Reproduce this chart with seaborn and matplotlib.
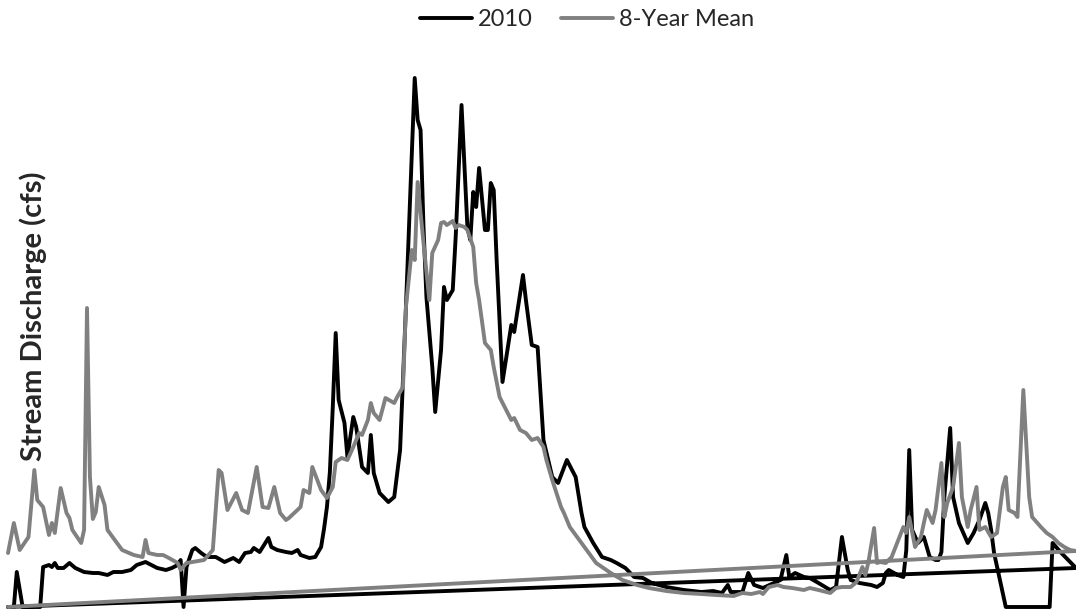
import matplotlib
matplotlib.use("Agg")
import matplotlib.pyplot as plt
import seaborn as sns
import pandas as pd

# Daily stream discharge (cfs), 2010 water year, in sheet row order
flow_day = [1, 3, 4, 6, 12, 13, 15, 16, 17, 18, 20, 22, 24, 27, 30, 32, 35, 37, 40, 43,
            45, 48, 50, 52, 55, 57, 59, 60, 61, 62, 64, 65, 67, 69, 72, 75, 78, 80, 82, 84,
            85, 87, 90, 91, 93, 96, 98, 100, 101, 104, 106, 108, 109, 110, 111, 112, 113, 114, 116, 117,
            119, 120, 122, 124, 125, 126, 128, 131, 133, 135, 137, 140, 141, 142, 143, 144, 146, 147, 149, 150,
            151, 153, 154, 156, 158, 159, 160, 161, 162, 164, 165, 166, 167, 168, 170, 173, 174, 177, 178, 180,
            182, 184, 187, 189, 192, 195, 197, 198, 201, 204, 207, 209, 212, 215, 218, 221, 226, 232, 238, 242,
            245, 247, 248, 252, 254, 256, 259, 265, 267, 268, 270, 273, 275, 278, 282, 284, 286, 288, 289, 292,
            296, 298, 300, 301, 302, 305, 307, 308, 309, 310, 312, 314, 316, 318, 319, 320, 321, 323, 324, 326,
            329, 331, 333, 335, 336, 337, 338, 342, 357, 358, 361, 365, 366, 1]
flow_cfs = [0, 0, 350, 0, 0, 400, 420, 400, 440, 390, 390, 440, 390, 350, 340, 340, 320, 350, 350, 370,
            420, 450, 420, 390, 370, 390, 420, 470, 0, 400, 570, 590, 540, 500, 500, 450, 490, 450, 540, 550,
            590, 550, 690, 600, 570, 550, 540, 570, 520, 490, 500, 600, 780, 1000, 1350, 2000, 2740, 2070, 1840, 1500,
            1900, 1800, 1400, 1340, 1720, 1340, 1140, 1050, 1100, 1570, 3000, 5290, 4870, 4770, 3800, 3100, 2400, 1950, 2570, 3200,
            3070, 3170, 3700, 5020, 3800, 3670, 4150, 4000, 4390, 3770, 3770, 4240, 4170, 3470, 2250, 2820, 2750, 3320, 3070, 2620,
            2600, 1670, 1300, 1240, 1470, 1300, 940, 800, 640, 500, 470, 440, 390, 300, 290, 240, 200, 170, 150, 160,
            140, 220, 150, 150, 340, 220, 190, 270, 520, 300, 340, 300, 290, 240, 170, 200, 700, 370, 270, 240,
            220, 200, 240, 340, 370, 320, 300, 570, 1570, 770, 640, 700, 500, 470, 470, 550, 1100, 1790, 1100, 840,
            640, 740, 870, 1040, 940, 770, 540, 0, 0, 640, 540, 420, 390, 0]

# Eight-year daily mean discharge (cfs), in sheet row order
mean_day = [1, 3, 5, 8, 10, 11, 13, 15, 16, 17, 19, 21, 22, 23, 26, 27, 28, 29, 30, 31,
            32, 34, 35, 38, 40, 44, 47, 48, 49, 52, 54, 56, 59, 60, 62, 64, 68, 71, 73, 74,
            76, 79, 81, 83, 86, 88, 90, 92, 94, 96, 97, 101, 102, 104, 105, 108, 110, 112, 113, 115,
            117, 119, 121, 122, 124, 125, 126, 128, 130, 133, 134, 136, 137, 139, 140, 141, 143, 145, 146, 148,
            149, 150, 151, 153, 154, 155, 157, 158, 160, 161, 162, 164, 166, 167, 169, 173, 174, 176, 178, 180,
            182, 184, 185, 187, 190, 191, 193, 198, 202, 207, 211, 216, 220, 226, 232, 238, 243, 249, 252, 255,
            258, 259, 261, 264, 266, 269, 273, 275, 278, 282, 284, 286, 289, 291, 293, 294, 295, 297, 298, 299,
            301, 303, 307, 308, 309, 311, 313, 314, 315, 317, 318, 320, 321, 322, 324, 326, 327, 329, 330, 332,
            333, 335, 337, 339, 341, 342, 343, 345, 346, 348, 350, 351, 354, 356, 358, 360, 362, 364, 366, 1]
mean_cfs = [540, 840, 570, 700, 1370, 1070, 1000, 720, 840, 740, 1190, 940, 890, 770, 640, 770, 2990, 1300, 880, 950,
            1200, 1020, 770, 650, 570, 520, 500, 670, 540, 520, 520, 490, 440, 370, 440, 450, 470, 570, 1370, 1340,
            970, 1140, 970, 940, 1400, 1000, 990, 1200, 940, 870, 890, 1000, 1170, 1140, 1400, 1170, 1090, 1200, 1450, 1490,
            1470, 1600, 1740, 1720, 1870, 2040, 1940, 1870, 2090, 2040, 2100, 2200, 3000, 3570, 3470, 4250, 3640, 3070, 3540, 3670,
            3840, 3850, 3820, 3860, 3790, 3820, 3800, 3770, 3600, 3240, 3070, 2640, 2570, 2400, 2100, 1870, 1890, 1770, 1740, 1670,
            1690, 1600, 1470, 1270, 1000, 940, 800, 600, 440, 340, 270, 220, 190, 160, 140, 130, 120, 110, 140, 130,
            150, 130, 200, 220, 200, 190, 170, 190, 170, 140, 190, 200, 200, 250, 400, 320, 440, 790, 440, 450,
            440, 500, 800, 740, 900, 600, 700, 840, 970, 840, 970, 1440, 900, 1040, 1200, 1640, 1100, 800, 970, 1200,
            770, 800, 700, 740, 1200, 1300, 970, 940, 900, 2170, 1100, 900, 800, 740, 700, 640, 600, 570, 560, 0]

series_names = ["2010", "8-Year Mean"]
series_colors = ["#000000", "#808080"]

sns.set_theme(style="white")
plt.rcParams["font.family"] = ["Lato", "DejaVu Sans"]

W, H = 1076, 612
fig = plt.figure(figsize=(W / 100, H / 100), dpi=100)
ax = fig.add_axes([8 / W, 5 / H, 1068 / W, 530 / H])

flow = pd.DataFrame({"day": flow_day, "cfs": flow_cfs})
mean = pd.DataFrame({"day": mean_day, "cfs": mean_cfs})

sns.lineplot(data=flow, x="day", y="cfs", sort=False, estimator=None,
             color=series_colors[0], linewidth=2.8, ax=ax, label=series_names[0])
sns.lineplot(data=mean, x="day", y="cfs", sort=False, estimator=None,
             color=series_colors[1], linewidth=2.8, ax=ax, label=series_names[1])
for ln in ax.lines:
    ln.set_clip_on(False)
    ln.set_solid_joinstyle("round")
    ln.set_solid_capstyle("round")

ax.set_xlim(1, 366)
ax.set_ylim(0, 5300)
ax.set_xticks([])
ax.set_yticks([])
ax.set_xlabel("")
ax.set_ylabel("")
for s in ax.spines.values():
    s.set_visible(False)

handles, labels = ax.get_legend_handles_labels()
ax.get_legend().remove()
fig.legend(handles, labels, loc="center", bbox_to_anchor=(587 / W, 1 - 20 / H),
           ncol=2, frameon=False, fontsize=17, handlelength=2.2, handletextpad=0.25,
           columnspacing=1.2)

# Vertical axis title, sized so that it runs about 290 px along the left edge
ylab = fig.text(33 / W, 1 - 316 / H, "Stream Discharge (cfs)", rotation=90, ha="center",
                va="center", fontsize=17, fontweight="bold")
renderer = fig.canvas.get_renderer()
ext = ylab.get_window_extent(renderer=renderer)
ylab.set_fontsize(17 * 290 / ext.height)

fig.savefig("out.png", dpi=100)
